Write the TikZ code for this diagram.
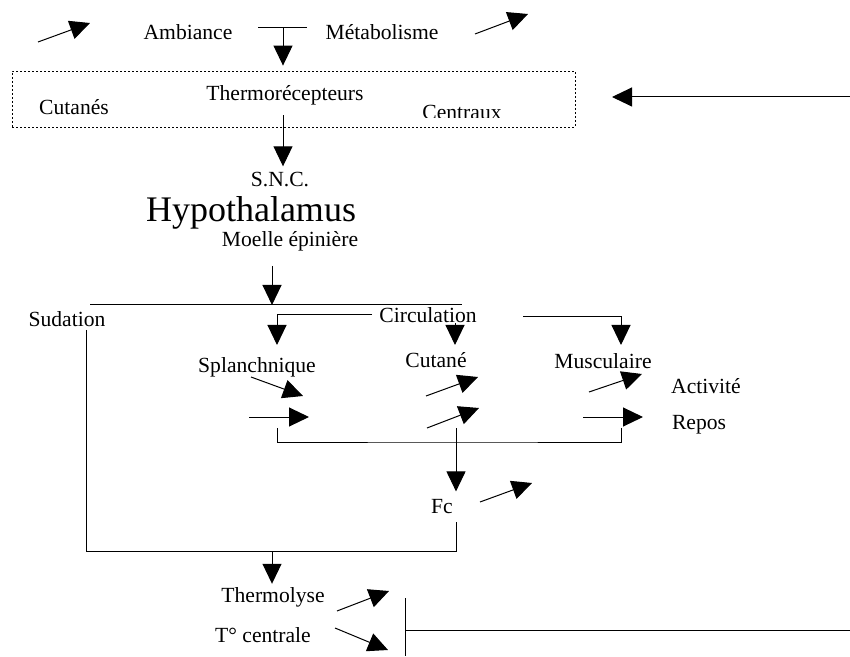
\documentclass[tikz,border=0pt]{standalone}
\usepackage{fontspec}
\setmainfont{Liberation Serif}
\usetikzlibrary{arrows.meta,calc,positioning}
\newcommand{\pxunit}{0.5pt}
\tikzset{
    labelsty/.style={font=\fontsize{10.8}{13}\selectfont, inner sep=0pt},
    bigsty/.style={font=\fontsize{18}{22}\selectfont, inner sep=0pt},
    boxsty/.style={draw, dash pattern=on 1pt off 1pt, rectangle, minimum width=281.5pt, minimum height=28pt, inner sep=0pt},
    flowsty/.style={-{Triangle[length=10pt,width=9.5pt]}, line width=0.5pt},
    trendsty/.style={-{Triangle[length=10pt,width=9.5pt]}, line width=0.5pt},
    linksty/.style={line width=0.5pt},
}

\begin{document}
\begin{tikzpicture}[x=\pxunit, y=-\pxunit]
  \useasboundingbox (0,0) rectangle (850,657);

  % inputs
  \node[labelsty] (amb)  at (188,32) {Ambiance};
  \node[labelsty] (meta) at (382,32) {Métabolisme};
  \coordinate (mixl) at (258,28);
  \coordinate (mixr) at (307,28);
  \coordinate (mix)  at (283,28);
  \draw[linksty] (mixl) -- (mixr);
  \coordinate (ambup0) at (38,42);  \coordinate (ambup1) at (90,23);
  \coordinate (metup0) at (475,34); \coordinate (metup1) at (528,14);
  \draw[trendsty] (ambup0) -- (ambup1);
  \draw[trendsty] (metup0) -- (metup1);

  % thermoreceptors
  \node[boxsty] (recbox) at (293.5,99) {};
  \draw[flowsty, shorten >=2.5pt] (mix) -- (mix |- recbox.north);
  \node[labelsty] (therm)   at (285,95)  {Thermorécepteurs};
  \node[labelsty] (cutanes) at (74,107)  {Cutanés};
  \begin{scope}
    \clip (12,71) rectangle (575,117.5);
    \node[labelsty] (centraux) at (462,112) {Centraux};
  \end{scope}
  \coordinate (fbin)  at (850,97);
  \coordinate (fbtip) at (612,97);
  \draw[flowsty] (fbin) -- (fbtip);

  % central nervous system
  \node[labelsty] (snc)    at (280,180) {S.N.C.};
  \node[bigsty]   (hypo)   at (251,213) {Hypothalamus};
  \node[labelsty] (moelle) at (290,241) {Moelle épinière};
  \draw[flowsty, shorten <=5pt, shorten >=3pt] (therm.south -| mix) -- (snc.north -| mix);
  \coordinate (hypout) at (272,266);
  \coordinate (split)  at (272,305);
  \coordinate (splitl) at (90,305);
  \coordinate (splitr) at (462,305);
  \draw[linksty] (splitl) -- (splitr);
  \draw[flowsty] (hypout) -- (split);

  % effectors
  \node[labelsty] (sud)  at (67,319)  {Sudation};
  \node[labelsty] (circ) at (428,315) {Circulation};
  \node[labelsty] (splan) at (257,367) {Splanchnique};
  \node[labelsty] (cutane) at (436,360) {Cutané};
  \node[labelsty] (muscu) at (603,361) {Musculaire};
  \node[labelsty] (activ) at (706,386) {Activité};
  \node[labelsty] (repos) at (699,425) {Repos};
  \coordinate (splin)   at (277,345);
  \coordinate (cutin)   at (455,345);
  \coordinate (muscout) at (523,317);
  \coordinate (muscin)  at (621,345);
  \draw[flowsty] ([xshift=-3.5pt]circ.west) -| (splin);
  \draw[flowsty] (circ.south -| cutin) -- (cutin);
  \draw[flowsty] (muscout) -| (muscin);

  % trends
  \coordinate (splup0) at (251,377); \coordinate (splup1) at (303,396);
  \coordinate (splrp0) at (249,417); \coordinate (splrp1) at (309,417);
  \coordinate (cutup0) at (426,396); \coordinate (cutup1) at (478,377);
  \coordinate (cutrp0) at (427,428); \coordinate (cutrp1) at (479,408);
  \coordinate (musup0) at (589,392); \coordinate (musup1) at (642,374);
  \coordinate (musrp0) at (583,417); \coordinate (musrp1) at (643,417);
  \draw[trendsty] (splup0) -- (splup1);
  \draw[trendsty] (splrp0) -- (splrp1);
  \draw[trendsty] (cutup0) -- (cutup1);
  \draw[trendsty] (cutrp0) -- (cutrp1);
  \draw[trendsty] (musup0) -- (musup1);
  \draw[trendsty] (musrp0) -- (musrp1);

  % heart rate
  \node[labelsty] (fc) at (442,507) {Fc};
  \coordinate (brl)    at (277,428);
  \coordinate (brr)    at (621,428);
  \coordinate (brm)    at (456,428);
  \coordinate (brbase) at (456,442);
  \draw[linksty] (brl) |- (brbase) -| (brr);
  \draw[flowsty, shorten >=4pt] (brm) -- (brm |- fc.north);
  \coordinate (fcup0) at (480,502); \coordinate (fcup1) at (532,483);
  \draw[trendsty] (fcup0) -- (fcup1);

  % heat loss
  \coordinate (sudout) at (86,330);
  \coordinate (loopbl) at (86,551);
  \coordinate (loopbr) at (456,551);
  \coordinate (loopm)  at (272,551);
  \coordinate (fcout)  at (456,522);
  \draw[linksty] (sudout) -- (loopbl) -- (loopbr) -- (fcout);
  \node[labelsty] (thlys) at (273,597) {Thermolyse};
  \node[labelsty] (tcent) at (263,635) {T° centrale};
  \draw[flowsty, shorten >=1.5pt] (loopm) -- (loopm |- thlys.north);
  \coordinate (thup0) at (337,611); \coordinate (thup1) at (389,591);
  \coordinate (tcdn0) at (335,628); \coordinate (tcdn1) at (388,650);
  \draw[trendsty] (thup0) -- (thup1);
  \draw[trendsty] (tcdn0) -- (tcdn1);
  \coordinate (bartop) at (405,598);
  \coordinate (barbot) at (405,656);
  \coordinate (barmid) at (405,630);
  \coordinate (fbout)  at (850,630);
  \draw[linksty] (bartop) -- (barbot);
  \draw[linksty] (barmid) -- (fbout);
\end{tikzpicture}
\end{document}
